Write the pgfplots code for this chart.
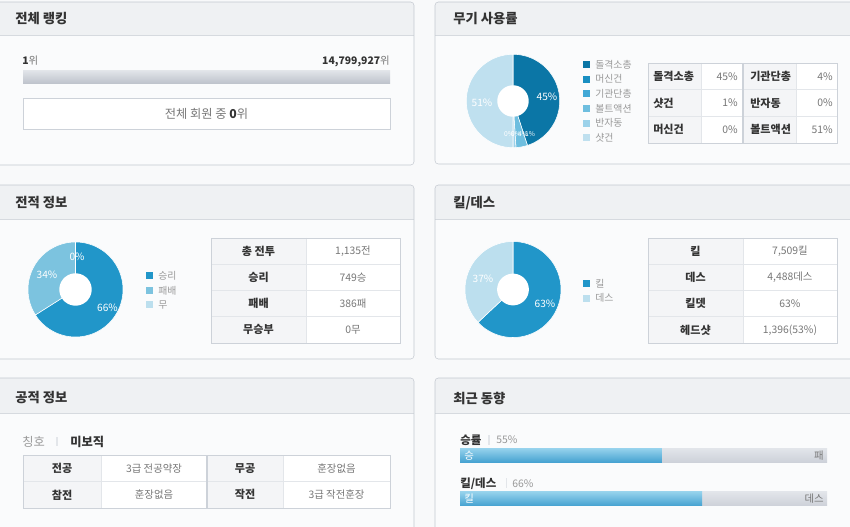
\documentclass[border=0pt]{standalone}
\usepackage{fontspec}
\setmainfont{Noto Sans CJK KR}
\usepackage{pgfplots}
\pgfplotsset{compat=1.18}
\definecolor{pagebg}{HTML}{F8F9FA}
\definecolor{panelbg}{HTML}{FAFBFC}
\definecolor{headbg}{HTML}{EFF1F3}
\definecolor{headline}{HTML}{D6DADF}
\definecolor{panelborder}{HTML}{C4C9D0}
\definecolor{titlec}{HTML}{333333}
\definecolor{labelbg}{HTML}{F4F5F7}
\definecolor{gridc}{HTML}{E3E6EA}
\definecolor{tborder}{HTML}{CDD2D9}
\definecolor{dark}{HTML}{333333}
\definecolor{mid}{HTML}{777777}
\definecolor{light}{HTML}{999999}
\definecolor{wA}{HTML}{0B76A6}
\definecolor{wB}{HTML}{1A8FC2}
\definecolor{wC}{HTML}{42A8D6}
\definecolor{wD}{HTML}{6EBEDF}
\definecolor{wE}{HTML}{9CD2EA}
\definecolor{wF}{HTML}{BFE0EF}
\definecolor{win}{HTML}{2196C9}
\definecolor{lose}{HTML}{7CC3DF}
\definecolor{wdraw}{HTML}{BCDFEE}
\definecolor{barT}{HTML}{96D2EC}
\definecolor{barB}{HTML}{45A2D1}
\definecolor{grT}{HTML}{E2E5EA}
\definecolor{grB}{HTML}{CDD1D9}
\definecolor{rkT}{HTML}{E0E3E8}
\definecolor{rkB}{HTML}{BCC1CA}

\newcommand{\ptitle}[3]{\node[anchor=west, text=titlec, inner sep=0pt, font=\fontsize{10}{12}\selectfont\bfseries] at (#1,#2) {#3};}
\newcommand{\lab}[3]{\node[anchor=west, text=dark, inner sep=0pt, font=\fontsize{8.3}{9}\selectfont\bfseries] at (#1,#2) {#3};}
\newcommand{\clab}[3]{\node[text=dark, inner sep=0pt, font=\fontsize{8.3}{9}\selectfont\bfseries] at (#1,#2) {#3};}
\newcommand{\rval}[3]{\node[anchor=east, text=mid, inner sep=0pt, font=\fontsize{7.8}{9}\selectfont] at (#1,#2) {#3};}
\newcommand{\cval}[3]{\node[text=mid, inner sep=0pt, font=\fontsize{7.8}{9}\selectfont] at (#1,#2) {#3};}
\newcommand{\leg}[4]{\fill[#3] (#1,#2-3.5) rectangle (#1+7,#2+3.5);
  \node[anchor=west, text=light, inner sep=0pt, font=\fontsize{7.4}{8}\selectfont] at (#1+12,#2) {#4};}
\newcommand{\plab}[3]{\node[text=white, inner sep=0pt, font=\fontsize{7.6}{8}\selectfont] at (#1,#2) {#3};}
\newcommand{\slab}[3]{\node[text=white, inner sep=0pt, font=\fontsize{5}{6}\selectfont] at (#1,#2) {#3};}

\pgfplotsset{donut/.style={scale only axis, hide axis, xmin=-1, xmax=1, ymin=-1, ymax=1, clip=false, anchor=south west}}

\begin{document}
\begin{tikzpicture}[x=0.75pt, y=-0.75pt]
\useasboundingbox (0,0) rectangle (850,527);
\fill[pagebg] (0,0) rectangle (850,527);

% ---------- panels ----------
\newcommand{\pan}[5]{%
  \fill[panelbg, rounded corners=2.5pt] (#1,#2) rectangle (#3,#4);
  \begin{scope}
    \clip[rounded corners=2.5pt] (#1,#2) rectangle (#3,#4);
    \fill[headbg] (#1,#2) rectangle (#3,#5);
    \draw[headline] (#1,#5) -- (#3,#5);
  \end{scope}
  \draw[panelborder, rounded corners=2.5pt] (#1,#2) rectangle (#3,#4);}
\pan{-4}{2}{414}{165}{35}
\pan{435}{2}{856}{164}{35}
\pan{-4}{185}{414}{359}{219}
\pan{435}{185}{856}{359}{219}
\pan{-4}{378}{414}{540}{413}
\pan{435}{378}{856}{540}{413}
\ptitle{15}{19}{전체 랭킹}
\ptitle{453}{19}{무기 사용률}
\ptitle{15}{203}{전적 정보}
\ptitle{453}{203}{킬/데스}
\ptitle{15}{398}{공적 정보}
\ptitle{453}{398}{최근 동향}

% ---------- panel 1: ranking ----------
\node[anchor=west, inner sep=0pt, font=\fontsize{7.8}{9}\selectfont] at (22,61) {\textcolor{dark}{\bfseries 1}\textcolor{mid}{위}};
\node[anchor=east, inner sep=0pt, font=\fontsize{7.8}{9}\selectfont] at (390,61) {\textcolor{dark}{\bfseries 14,799,927}\textcolor{mid}{위}};
\begin{scope}[x=1cm, y=1cm]
\begin{axis}[at={(23*0.75pt,-84*0.75pt)}, anchor=south west, scale only axis, hide axis,
  width=275.25pt, height=9.75pt, xmin=1, xmax=14799927, ymin=-0.5, ymax=0.5,
  xbar, bar width=9.75pt]
\addplot[xbar, draw=none, top color=rkT, bottom color=rkB] coordinates {(14799927,0)};
\end{axis}
\end{scope}
\draw[tborder, fill=white] (23,98) rectangle (390,129);
\node[inner sep=0pt, font=\fontsize{9.2}{10}\selectfont] at (206.5,113.5) {\textcolor{mid}{전체 회원 중 }\textcolor{dark}{\bfseries 0}\textcolor{mid}{위}};

% ---------- panel 2: weapons ----------
\begin{scope}[x=1cm, y=1cm]
\begin{axis}[donut, at={(466.3*0.75pt,-147.7*0.75pt)}, width=70.05pt, height=70.05pt]
\addplot[fill=wA, draw=white, line width=0.4pt, domain=-72:90, samples=60] ({cos(x)},{sin(x)}) -- (axis cs:0,0) -- cycle;
\addplot[fill=wD, draw=white, line width=0.4pt, domain=-86.4:-72, samples=8] ({cos(x)},{sin(x)}) -- (axis cs:0,0) -- cycle;
\addplot[fill=wE, draw=white, line width=0.4pt, domain=-90:-86.4, samples=4] ({cos(x)},{sin(x)}) -- (axis cs:0,0) -- cycle;
\addplot[fill=wF, draw=white, line width=0.4pt, domain=90:270, samples=60] ({cos(x)},{sin(x)}) -- (axis cs:0,0) -- cycle;
\addplot[fill=white, draw=none, domain=0:360, samples=73] ({0.336*cos(x)},{0.336*sin(x)});
\end{axis}
\end{scope}
\plab{547}{97}{45\%}
\plab{482}{103}{51\%}
\slab{509}{134}{0\%}
\slab{516}{134}{0\%}
\slab{523}{134}{4\%}
\slab{530}{134}{1\%}
\leg{583}{64.5}{wA}{돌격소총}
\leg{583}{79.2}{wB}{머신건}
\leg{583}{93.9}{wC}{기관단총}
\leg{583}{108.6}{wD}{볼트액션}
\leg{583}{123.3}{wE}{반자동}
\leg{583}{138}{wF}{샷건}
% table
\fill[white] (648,63) rectangle (837,143);
\fill[labelbg] (648,63) rectangle (701,143);
\fill[labelbg] (743,63) rectangle (796,143);
\draw[gridc] (648,89.7) -- (837,89.7) (648,116.3) -- (837,116.3) (701,63) -- (701,143) (796,63) -- (796,143);
\draw[tborder, line width=1.2pt] (743,63) -- (743,143);
\draw[tborder] (648,63) rectangle (837,143);
\lab{653}{76.3}{돌격소총} \rval{738}{76.3}{45\%}
\lab{750}{76.3}{기관단총} \rval{833}{76.3}{4\%}
\lab{653}{103}{샷건} \rval{738}{103}{1\%}
\lab{750}{103}{반자동} \rval{833}{103}{0\%}
\lab{653}{129.7}{머신건} \rval{738}{129.7}{0\%}
\lab{750}{129.7}{볼트액션} \rval{833}{129.7}{51\%}

% ---------- panel 3: record ----------
\begin{scope}[x=1cm, y=1cm]
\begin{axis}[donut, at={(28*0.75pt,-337*0.75pt)}, width=71.25pt, height=71.25pt]
\addplot[fill=win, draw=white, line width=0.4pt, domain=-147.6:90, samples=80] ({cos(x)},{sin(x)}) -- (axis cs:0,0) -- cycle;
\addplot[fill=lose, draw=white, line width=0.4pt, domain=-270:-147.6, samples=50] ({cos(x)},{sin(x)}) -- (axis cs:0,0) -- cycle;
\addplot[fill=white, draw=none, domain=0:360, samples=73] ({0.34*cos(x)},{0.34*sin(x)});
\end{axis}
\end{scope}
\plab{107.5}{307.5}{66\%}
\plab{47}{275}{34\%}
\plab{77}{257}{0\%}
\leg{146}{276}{win}{승리}
\leg{146}{290.5}{lose}{패배}
\leg{146}{305}{wdraw}{무}
\fill[white] (211,238) rectangle (400,343);
\fill[labelbg] (211,238) rectangle (306,343);
\draw[gridc] (211,264.25) -- (400,264.25) (211,290.5) -- (400,290.5) (211,316.75) -- (400,316.75) (306,238) -- (306,343);
\draw[tborder] (211,238) rectangle (400,343);
\clab{258.5}{251.1}{총 전투} \cval{353}{251.1}{1,135전}
\clab{258.5}{277.4}{승리} \cval{353}{277.4}{749승}
\clab{258.5}{303.6}{패배} \cval{353}{303.6}{386패}
\clab{258.5}{329.9}{무승부} \cval{353}{329.9}{0무}

% ---------- panel 4: kill/death ----------
\begin{scope}[x=1cm, y=1cm]
\begin{axis}[donut, at={(465*0.75pt,-337.5*0.75pt)}, width=72pt, height=72pt]
\addplot[fill=win, draw=white, line width=0.4pt, domain=-136.8:90, samples=80] ({cos(x)},{sin(x)}) -- (axis cs:0,0) -- cycle;
\addplot[fill=wdraw, draw=white, line width=0.4pt, domain=-270:-136.8, samples=50] ({cos(x)},{sin(x)}) -- (axis cs:0,0) -- cycle;
\addplot[fill=white, draw=none, domain=0:360, samples=73] ({0.33*cos(x)},{0.33*sin(x)});
\end{axis}
\end{scope}
\plab{545}{304}{63\%}
\plab{483}{279}{37\%}
\leg{583}{283.5}{win}{킬}
\leg{583}{298.3}{wdraw}{데스}
\fill[white] (648,238) rectangle (837,343);
\fill[labelbg] (648,238) rectangle (743,343);
\draw[gridc] (648,264.25) -- (837,264.25) (648,290.5) -- (837,290.5) (648,316.75) -- (837,316.75) (743,238) -- (743,343);
\draw[tborder] (648,238) rectangle (837,343);
\clab{695.5}{251.1}{킬} \cval{790}{251.1}{7,509킬}
\clab{695.5}{277.4}{데스} \cval{790}{277.4}{4,488데스}
\clab{695.5}{303.6}{킬뎃} \cval{790}{303.6}{63\%}
\clab{695.5}{329.9}{헤드샷} \cval{790}{329.9}{1,396(53\%)}

% ---------- panel 5: merits ----------
\node[anchor=west, inner sep=0pt, font=\fontsize{9.2}{10}\selectfont, text=light] at (22,441.5) {칭호};
\draw[gridc, line width=0.8pt] (57,437) -- (57,446);
\node[anchor=west, inner sep=0pt, font=\fontsize{9.2}{10}\selectfont\bfseries, text=dark] at (70,441.5) {미보직};
\fill[white] (23,455) rectangle (390,508);
\fill[labelbg] (23,455) rectangle (101,508);
\fill[labelbg] (207,455) rectangle (283,508);
\draw[gridc] (23,481.5) -- (390,481.5) (101,455) -- (101,508) (283,455) -- (283,508);
\draw[tborder, line width=1.2pt] (207,455) -- (207,508);
\draw[tborder] (23,455) rectangle (390,508);
\clab{62}{468.2}{전공} \cval{154}{468.2}{3급 전공약장}
\clab{245}{468.2}{무공} \cval{336.5}{468.2}{훈장없음}
\clab{62}{494.8}{참전} \cval{154}{494.8}{훈장없음}
\clab{245}{494.8}{작전} \cval{336.5}{494.8}{3급 작전훈장}

% ---------- panel 6: recent ----------
\node[anchor=west, inner sep=0pt, font=\fontsize{8.6}{10}\selectfont\bfseries, text=dark] at (460,440) {승률};
\draw[gridc, line width=0.8pt] (489,435) -- (489,445);
\node[anchor=west, inner sep=0pt, font=\fontsize{7.8}{9}\selectfont, text=light] at (496,440) {55\%};
\begin{scope}[x=1cm, y=1cm]
\begin{axis}[at={(460*0.75pt,-462.3*0.75pt)}, anchor=south west, scale only axis, hide axis,
  width=275.25pt, height=10.5pt, xmin=0, xmax=100, ymin=-0.5, ymax=0.5,
  xbar stacked, bar width=10.5pt]
\addplot[draw=none, top color=barT, bottom color=barB] coordinates {(55,0)};
\addplot[draw=none, top color=grT, bottom color=grB] coordinates {(45,0)};
\end{axis}
\end{scope}
\node[anchor=west, inner sep=0pt, font=\fontsize{7.8}{9}\selectfont, text=white] at (464,455.5) {승};
\node[anchor=east, inner sep=0pt, font=\fontsize{7.8}{9}\selectfont, text=mid] at (824,455.5) {패};

\node[anchor=west, inner sep=0pt, font=\fontsize{8.6}{10}\selectfont\bfseries, text=dark] at (460,483.3) {킬/데스};
\draw[gridc, line width=0.8pt] (506.5,478.3) -- (506.5,488.3);
\node[anchor=west, inner sep=0pt, font=\fontsize{7.8}{9}\selectfont, text=light] at (512,483.3) {66\%};
\begin{scope}[x=1cm, y=1cm]
\begin{axis}[at={(460*0.75pt,-505.7*0.75pt)}, anchor=south west, scale only axis, hide axis,
  width=275.25pt, height=10.5pt, xmin=0, xmax=100, ymin=-0.5, ymax=0.5,
  xbar stacked, bar width=10.5pt]
\addplot[draw=none, top color=barT, bottom color=barB] coordinates {(66,0)};
\addplot[draw=none, top color=grT, bottom color=grB] coordinates {(34,0)};
\end{axis}
\end{scope}
\node[anchor=west, inner sep=0pt, font=\fontsize{7.8}{9}\selectfont, text=white] at (464,498.7) {킬};
\node[anchor=east, inner sep=0pt, font=\fontsize{7.8}{9}\selectfont, text=mid] at (824,498.7) {데스};
\end{tikzpicture}
\end{document}
